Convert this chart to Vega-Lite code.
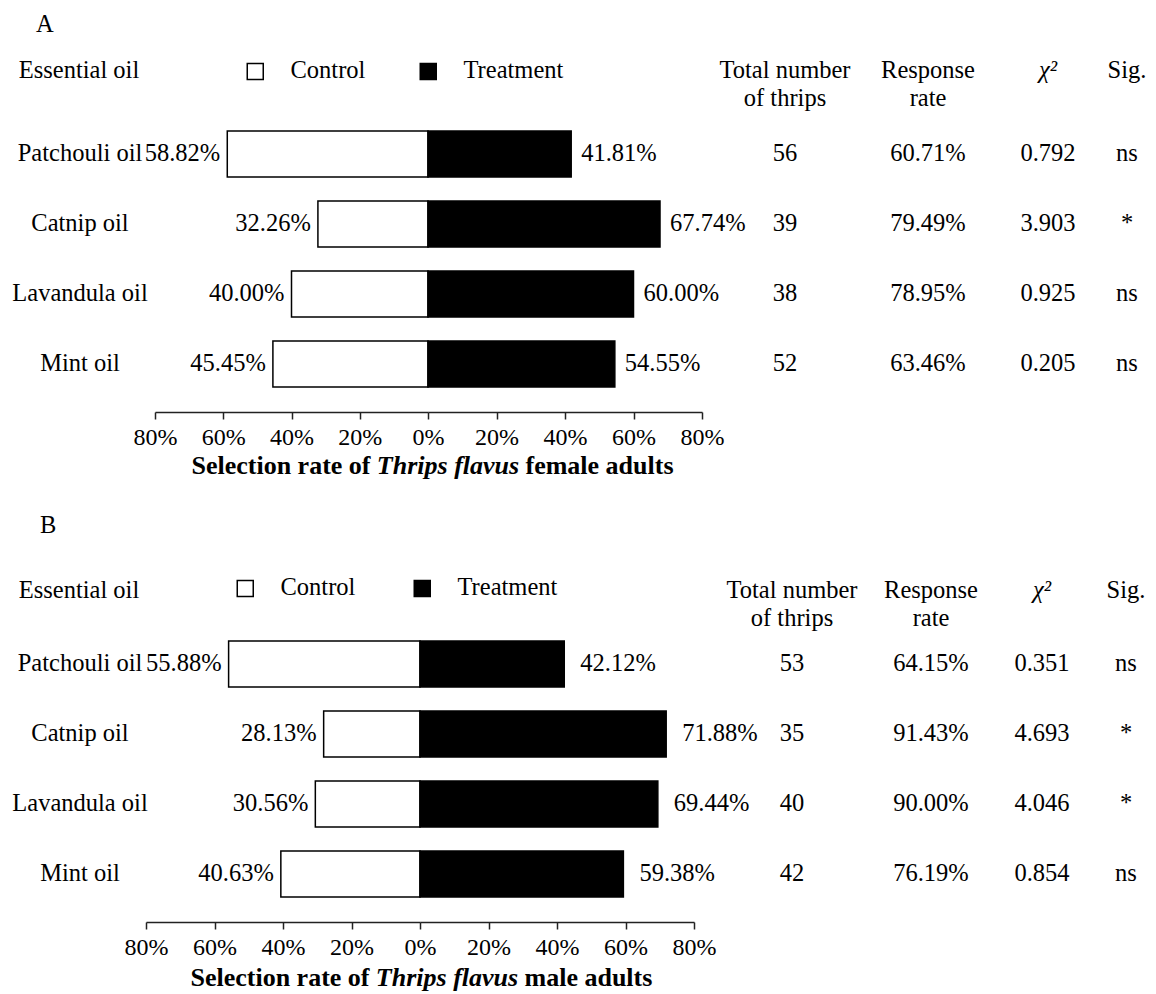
{
  "$schema": "https://vega.github.io/schema/vega-lite/v6.json",
  "background": "white",
  "padding": {"left": 0, "top": 12, "right": 0, "bottom": 0},
  "spacing": 33,
  "resolve": {"scale": {"fill": "independent"}, "legend": {"fill": "independent"}},
  "datasets": {
    "female": [
      {"oil": "Patchouli oil", "group": "Control", "share": 0.5882},
      {"oil": "Patchouli oil", "group": "Treatment", "share": 0.4181},
      {"oil": "Catnip oil", "group": "Control", "share": 0.3226},
      {"oil": "Catnip oil", "group": "Treatment", "share": 0.6774},
      {"oil": "Lavandula oil", "group": "Control", "share": 0.4000},
      {"oil": "Lavandula oil", "group": "Treatment", "share": 0.6000},
      {"oil": "Mint oil", "group": "Control", "share": 0.4545},
      {"oil": "Mint oil", "group": "Treatment", "share": 0.5455}
    ],
    "femaleStats": [
      {"oil": "Patchouli oil", "thrips": 56, "rate": 0.6071, "chi": 0.792, "sig": "ns"},
      {"oil": "Catnip oil", "thrips": 39, "rate": 0.7949, "chi": 3.903, "sig": "*"},
      {"oil": "Lavandula oil", "thrips": 38, "rate": 0.7895, "chi": 0.925, "sig": "ns"},
      {"oil": "Mint oil", "thrips": 52, "rate": 0.6346, "chi": 0.205, "sig": "ns"}
    ],
    "male": [
      {"oil": "Patchouli oil", "group": "Control", "share": 0.5588},
      {"oil": "Patchouli oil", "group": "Treatment", "share": 0.4212},
      {"oil": "Catnip oil", "group": "Control", "share": 0.2813},
      {"oil": "Catnip oil", "group": "Treatment", "share": 0.7188},
      {"oil": "Lavandula oil", "group": "Control", "share": 0.3056},
      {"oil": "Lavandula oil", "group": "Treatment", "share": 0.6944},
      {"oil": "Mint oil", "group": "Control", "share": 0.4063},
      {"oil": "Mint oil", "group": "Treatment", "share": 0.5938}
    ],
    "maleStats": [
      {"oil": "Patchouli oil", "thrips": 53, "rate": 0.6415, "chi": 0.351, "sig": "ns"},
      {"oil": "Catnip oil", "thrips": 35, "rate": 0.9143, "chi": 4.693, "sig": "*"},
      {"oil": "Lavandula oil", "thrips": 40, "rate": 0.9000, "chi": 4.046, "sig": "*"},
      {"oil": "Mint oil", "thrips": 42, "rate": 0.7619, "chi": 0.854, "sig": "ns"}
    ]
  },
  "vconcat": [
    {
      "title": {"text": "A", "anchor": "start", "dx": 36, "offset": 20},
      "spacing": 4,
      "vconcat": [
        {
          "bounds": "flush",
          "spacing": 0,
          "hconcat": [
            {
              "width": 140, "height": 306,
              "data": {"name": "femaleStats"},
              "title": {"text": "Essential oil", "offset": 23, "dx": 9},
              "mark": {"type": "text", "dx": 10},
              "encoding": {
                "y": {"field": "oil", "type": "nominal", "axis": null,
                      "scale": {"type": "band", "domain": ["Patchouli oil", "Catnip oil", "Lavandula oil", "Mint oil"], "paddingInner": 0.342857, "paddingOuter": 0.357143}},
                "text": {"field": "oil", "type": "nominal"}
              }
            },
            {
              "width": 570, "height": 306,
              "data": {"name": "female"},
              "resolve": {"scale": {"x": "independent"}, "axis": {"x": "independent"}},
              "encoding": {
                "y": {"field": "oil", "type": "nominal", "axis": null,
                      "scale": {"type": "band", "domain": ["Patchouli oil", "Catnip oil", "Lavandula oil", "Mint oil"], "paddingInner": 0.342857, "paddingOuter": 0.357143}}
              },
              "layer": [
                {
                  "transform": [{"filter": "datum.group === 'Control'"}],
                  "encoding": {
                    "x": {"field": "share", "type": "quantitative",
                          "scale": {"domain": [0, 0.8], "range": [288, 15], "nice": false, "zero": false},
                          "axis": {"orient": "bottom", "values": [0.2, 0.4, 0.6, 0.8], "format": ".0%"}}
                  },
                  "layer": [
                    {
                      "mark": {"type": "bar", "stroke": "black", "strokeWidth": 1.5},
                      "encoding": {
                        "x2": {"datum": 0},
                        "fill": {"field": "group", "type": "nominal",
                                 "scale": {"domain": ["Control", "Treatment"], "range": ["white", "black"]},
                                 "legend": {"orient": "none", "legendX": 243, "legendY": -47, "direction": "horizontal", "title": null}}
                      }
                    },
                    {
                      "mark": {"type": "text", "align": "right", "baseline": "middle", "dx": -7},
                      "encoding": {"text": {"field": "share", "type": "quantitative", "format": ".2%"}}
                    }
                  ]
                },
                {
                  "transform": [{"filter": "datum.group === 'Treatment'"}],
                  "encoding": {
                    "x": {"field": "share", "type": "quantitative",
                          "scale": {"domain": [0, 0.8], "range": [288, 562], "nice": false, "zero": false},
                          "axis": {"orient": "bottom", "values": [0, 0.2, 0.4, 0.6, 0.8], "format": ".0%"}}
                  },
                  "layer": [
                    {
                      "mark": {"type": "bar", "stroke": "black", "strokeWidth": 1.5},
                      "encoding": {
                        "x2": {"datum": 0},
                        "fill": {"field": "group", "type": "nominal",
                                 "scale": {"domain": ["Control", "Treatment"], "range": ["white", "black"]}}
                      }
                    },
                    {
                      "mark": {"type": "text", "align": "left", "baseline": "middle", "dx": 10},
                      "encoding": {"text": {"field": "share", "type": "quantitative", "format": ".2%"}}
                    }
                  ]
                }
              ]
            },
            {
              "width": 150, "height": 306,
              "data": {"name": "femaleStats"},
              "title": {"text": ["Total number", "of thrips"], "offset": -5},
              "mark": "text",
              "encoding": {
                "y": {"field": "oil", "type": "nominal", "axis": null,
                      "scale": {"type": "band", "domain": ["Patchouli oil", "Catnip oil", "Lavandula oil", "Mint oil"], "paddingInner": 0.342857, "paddingOuter": 0.357143}},
                "text": {"field": "thrips", "type": "quantitative", "format": "d"}
              }
            },
            {
              "width": 136, "height": 306,
              "data": {"name": "femaleStats"},
              "title": {"text": ["Response", "rate"], "offset": -5},
              "mark": "text",
              "encoding": {
                "y": {"field": "oil", "type": "nominal", "axis": null,
                      "scale": {"type": "band", "domain": ["Patchouli oil", "Catnip oil", "Lavandula oil", "Mint oil"], "paddingInner": 0.342857, "paddingOuter": 0.357143}},
                "text": {"field": "rate", "type": "quantitative", "format": ".2%"}
              }
            },
            {
              "width": 104, "height": 306,
              "data": {"name": "femaleStats"},
              "title": {"text": "χ²", "offset": 23, "fontStyle": "italic"},
              "mark": "text",
              "encoding": {
                "y": {"field": "oil", "type": "nominal", "axis": null,
                      "scale": {"type": "band", "domain": ["Patchouli oil", "Catnip oil", "Lavandula oil", "Mint oil"], "paddingInner": 0.342857, "paddingOuter": 0.357143}},
                "text": {"field": "chi", "type": "quantitative", "format": ".3f"}
              }
            },
            {
              "width": 54, "height": 306,
              "data": {"name": "femaleStats"},
              "title": {"text": "Sig.", "offset": 23},
              "mark": "text",
              "encoding": {
                "y": {"field": "oil", "type": "nominal", "axis": null,
                      "scale": {"type": "band", "domain": ["Patchouli oil", "Catnip oil", "Lavandula oil", "Mint oil"], "paddingInner": 0.342857, "paddingOuter": 0.357143}},
                "text": {"field": "sig", "type": "nominal"}
              }
            }
          ]
        },
        {
          "width": 896, "height": 26,
          "data": {"values": [{}]},
          "layer": [
            {"mark": {"type": "text", "text": "Selection rate of", "align": "right", "dx": -77.5, "fontWeight": "bold", "fontSize": 26}},
            {"mark": {"type": "text", "text": "Thrips flavus", "align": "center", "fontWeight": "bold", "fontStyle": "italic", "fontSize": 26}},
            {"mark": {"type": "text", "text": "female adults", "align": "left", "dx": 77.5, "fontWeight": "bold", "fontSize": 26}}
          ]
        }
      ]
    },
    {
      "title": {"text": "B", "anchor": "start", "dx": 40, "offset": 38},
      "spacing": 6,
      "vconcat": [
        {
          "bounds": "flush",
          "spacing": 0,
          "hconcat": [
            {
              "width": 140, "height": 306,
              "data": {"name": "maleStats"},
              "title": {"text": "Essential oil", "offset": 13, "dx": 9},
              "mark": {"type": "text", "dx": 10},
              "encoding": {
                "y": {"field": "oil", "type": "nominal", "axis": null,
                      "scale": {"type": "band", "domain": ["Patchouli oil", "Catnip oil", "Lavandula oil", "Mint oil"], "paddingInner": 0.342857, "paddingOuter": 0.357143}},
                "text": {"field": "oil", "type": "nominal"}
              }
            },
            {
              "width": 570, "height": 306,
              "data": {"name": "male"},
              "resolve": {"scale": {"x": "independent"}, "axis": {"x": "independent"}},
              "encoding": {
                "y": {"field": "oil", "type": "nominal", "axis": null,
                      "scale": {"type": "band", "domain": ["Patchouli oil", "Catnip oil", "Lavandula oil", "Mint oil"], "paddingInner": 0.342857, "paddingOuter": 0.357143}}
              },
              "layer": [
                {
                  "transform": [{"filter": "datum.group === 'Control'"}],
                  "encoding": {
                    "x": {"field": "share", "type": "quantitative",
                          "scale": {"domain": [0, 0.8], "range": [280, 6], "nice": false, "zero": false},
                          "axis": {"orient": "bottom", "values": [0.2, 0.4, 0.6, 0.8], "format": ".0%"}}
                  },
                  "layer": [
                    {
                      "mark": {"type": "bar", "stroke": "black", "strokeWidth": 1.5},
                      "encoding": {
                        "x2": {"datum": 0},
                        "fill": {"field": "group", "type": "nominal",
                                 "scale": {"domain": ["Control", "Treatment"], "range": ["white", "black"]},
                                 "legend": {"orient": "none", "legendX": 233, "legendY": -40, "direction": "horizontal", "title": null, "columnPadding": 54}}
                      }
                    },
                    {
                      "mark": {"type": "text", "align": "right", "baseline": "middle", "dx": -7},
                      "encoding": {"text": {"field": "share", "type": "quantitative", "format": ".2%"}}
                    }
                  ]
                },
                {
                  "transform": [{"filter": "datum.group === 'Treatment'"}],
                  "encoding": {
                    "x": {"field": "share", "type": "quantitative",
                          "scale": {"domain": [0, 0.8], "range": [280, 554], "nice": false, "zero": false},
                          "axis": {"orient": "bottom", "values": [0, 0.2, 0.4, 0.6, 0.8], "format": ".0%"}}
                  },
                  "layer": [
                    {
                      "mark": {"type": "bar", "stroke": "black", "strokeWidth": 1.5},
                      "encoding": {
                        "x2": {"datum": 0},
                        "fill": {"field": "group", "type": "nominal",
                                 "scale": {"domain": ["Control", "Treatment"], "range": ["white", "black"]}}
                      }
                    },
                    {
                      "mark": {"type": "text", "align": "left", "baseline": "middle", "dx": 16},
                      "encoding": {"text": {"field": "share", "type": "quantitative", "format": ".2%"}}
                    }
                  ]
                }
              ]
            },
            {
              "width": 164, "height": 306,
              "data": {"name": "maleStats"},
              "title": {"text": ["Total number", "of thrips"], "offset": -15},
              "mark": "text",
              "encoding": {
                "y": {"field": "oil", "type": "nominal", "axis": null,
                      "scale": {"type": "band", "domain": ["Patchouli oil", "Catnip oil", "Lavandula oil", "Mint oil"], "paddingInner": 0.342857, "paddingOuter": 0.357143}},
                "text": {"field": "thrips", "type": "quantitative", "format": "d"}
              }
            },
            {
              "width": 114, "height": 306,
              "data": {"name": "maleStats"},
              "title": {"text": ["Response", "rate"], "offset": -15},
              "mark": "text",
              "encoding": {
                "y": {"field": "oil", "type": "nominal", "axis": null,
                      "scale": {"type": "band", "domain": ["Patchouli oil", "Catnip oil", "Lavandula oil", "Mint oil"], "paddingInner": 0.342857, "paddingOuter": 0.357143}},
                "text": {"field": "rate", "type": "quantitative", "format": ".2%"}
              }
            },
            {
              "width": 108, "height": 306,
              "data": {"name": "maleStats"},
              "title": {"text": "χ²", "offset": 13, "fontStyle": "italic"},
              "mark": "text",
              "encoding": {
                "y": {"field": "oil", "type": "nominal", "axis": null,
                      "scale": {"type": "band", "domain": ["Patchouli oil", "Catnip oil", "Lavandula oil", "Mint oil"], "paddingInner": 0.342857, "paddingOuter": 0.357143}},
                "text": {"field": "chi", "type": "quantitative", "format": ".3f"}
              }
            },
            {
              "width": 60, "height": 306,
              "data": {"name": "maleStats"},
              "title": {"text": "Sig.", "offset": 13},
              "mark": "text",
              "encoding": {
                "y": {"field": "oil", "type": "nominal", "axis": null,
                      "scale": {"type": "band", "domain": ["Patchouli oil", "Catnip oil", "Lavandula oil", "Mint oil"], "paddingInner": 0.342857, "paddingOuter": 0.357143}},
                "text": {"field": "sig", "type": "nominal"}
              }
            }
          ]
        },
        {
          "width": 894, "height": 24,
          "data": {"values": [{}]},
          "layer": [
            {"mark": {"type": "text", "text": "Selection rate of", "align": "right", "dx": -77.5, "fontWeight": "bold", "fontSize": 26}},
            {"mark": {"type": "text", "text": "Thrips flavus", "align": "center", "fontWeight": "bold", "fontStyle": "italic", "fontSize": 26}},
            {"mark": {"type": "text", "text": "male adults", "align": "left", "dx": 77.5, "fontWeight": "bold", "fontSize": 26}}
          ]
        }
      ]
    }
  ],
  "config": {
    "font": "Liberation Serif",
    "view": {"stroke": null},
    "concat": {"spacing": 0},
    "text": {"font": "Liberation Serif", "fontSize": 24.5, "color": "black", "baseline": "middle"},
    "title": {"font": "Liberation Serif", "fontSize": 24.5, "fontWeight": "normal", "color": "black", "lineHeight": 28, "anchor": "middle"},
    "axis": {
      "title": null, "grid": false,
      "domainColor": "#222222", "domainWidth": 1.5,
      "tickColor": "#222222", "tickWidth": 1.5, "tickSize": 7,
      "labelFont": "Liberation Serif", "labelFontSize": 24, "labelColor": "black",
      "labelPadding": 6, "labelFlush": false, "labelOverlap": false, "labelBound": false
    },
    "legend": {
      "padding": 0, "symbolType": "square", "symbolSize": 256,
      "symbolStrokeColor": "black", "symbolStrokeWidth": 1.5,
      "labelFont": "Liberation Serif", "labelFontSize": 24.5, "labelColor": "black",
      "labelOffset": 23, "columnPadding": 50, "labelLimit": 300
    }
  }
}
